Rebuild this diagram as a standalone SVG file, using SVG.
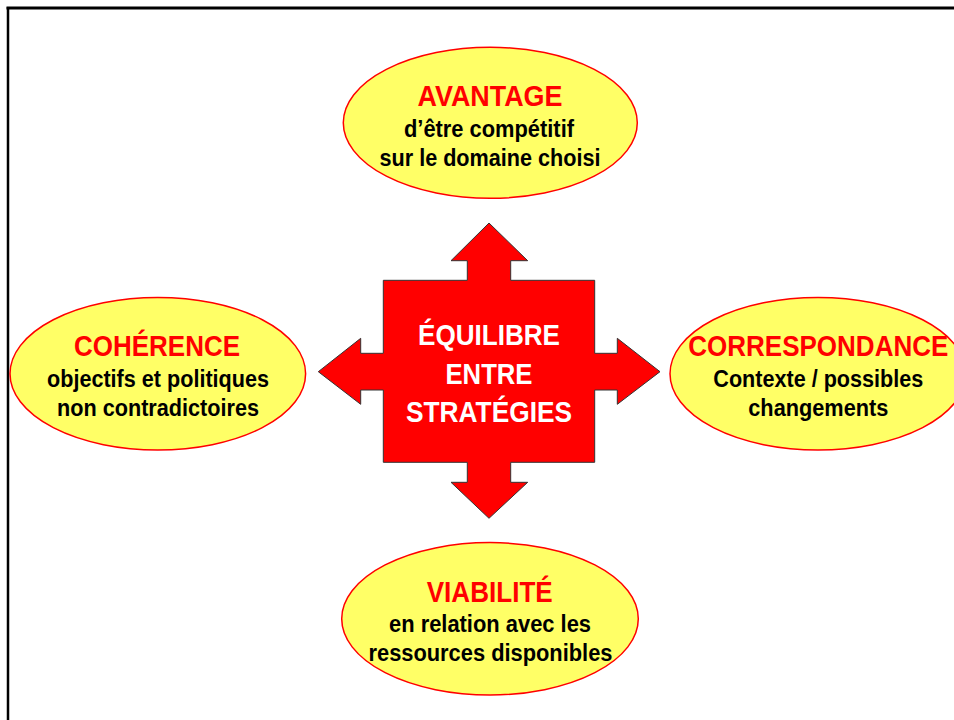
<svg xmlns="http://www.w3.org/2000/svg" width="954" height="720" viewBox="0 0 954 720">
<style>
.ell{fill:#FFFF66;stroke:#FF0000;stroke-width:1.5}
.t{font-family:"Liberation Sans",Arial,sans-serif;font-weight:bold;text-anchor:middle}
.ti{fill:#FF0000;font-size:29px}
.sub{fill:#000;font-size:23.5px}
.ctr{fill:#FFFFFF;font-size:30px}
</style>
<rect width="954" height="720" fill="#fff"/>
<g id="frame">
<line x1="6.5" y1="8" x2="954" y2="8" stroke="#000" stroke-width="3"/>
<line x1="8" y1="7" x2="8" y2="720" stroke="#000" stroke-width="2.5"/>
</g>
<g id="connectors">
<path d="M489,223 L527.7,260.7 L510.7,260.7 L510.7,280.3 L594.7,280.3 L594.7,353.3 L617.3,353.3 L617.3,338.3 L660,371.7 L617.3,404.3 L617.3,390 L594.7,390 L594.7,462.3 L510.7,462.3 L510.7,482.3 L527.7,482.3 L489,518.3 L451,482.3 L467.3,482.3 L467.3,462.3 L383.3,462.3 L383.3,390 L360.7,390 L360.7,404.3 L318.3,371.7 L360.7,338.3 L360.7,353.3 L383.3,353.3 L383.3,280.3 L467.3,280.3 L467.3,260.7 L451,260.7 Z" fill="#FF0000" stroke="#333" stroke-width="1"/>
</g>
<g id="center">
<text class="t ctr" x="489" y="345" textLength="142" lengthAdjust="spacingAndGlyphs">ÉQUILIBRE</text>
<text class="t ctr" x="489" y="383.5" textLength="87" lengthAdjust="spacingAndGlyphs">ENTRE</text>
<text class="t ctr" x="489" y="422" textLength="166" lengthAdjust="spacingAndGlyphs">STRATÉGIES</text>
</g>
<g id="avantage">
<ellipse class="ell" cx="490.3" cy="122.8" rx="147" ry="75.5"/>
<text class="t ti" x="490" y="106" textLength="145" lengthAdjust="spacingAndGlyphs">AVANTAGE</text>
<text class="t sub" x="489" y="137" textLength="170" lengthAdjust="spacingAndGlyphs">d’être compétitif</text>
<text class="t sub" x="490" y="165.5" textLength="221" lengthAdjust="spacingAndGlyphs">sur le domaine choisi</text>
</g>
<g id="coherence">
<ellipse class="ell" cx="157.8" cy="373.7" rx="147.8" ry="76.3"/>
<text class="t ti" x="157" y="356" textLength="166" lengthAdjust="spacingAndGlyphs">COHÉRENCE</text>
<text class="t sub" x="158" y="387" textLength="222" lengthAdjust="spacingAndGlyphs">objectifs et politiques</text>
<text class="t sub" x="158" y="416" textLength="202" lengthAdjust="spacingAndGlyphs">non contradictoires</text>
</g>
<g id="correspondance">
<ellipse class="ell" cx="818" cy="373.7" rx="148" ry="76.3"/>
<text class="t ti" x="818.3" y="356" textLength="260" lengthAdjust="spacingAndGlyphs">CORRESPONDANCE</text>
<text class="t sub" x="818.3" y="387" textLength="210" lengthAdjust="spacingAndGlyphs">Contexte / possibles</text>
<text class="t sub" x="818.3" y="416" textLength="140" lengthAdjust="spacingAndGlyphs">changements</text>
</g>
<g id="viabilite">
<ellipse class="ell" cx="490" cy="618.8" rx="148.3" ry="76.2"/>
<text class="t ti" x="489.7" y="602" textLength="126" lengthAdjust="spacingAndGlyphs">VIABILITÉ</text>
<text class="t sub" x="490" y="632" textLength="202" lengthAdjust="spacingAndGlyphs">en relation avec les</text>
<text class="t sub" x="490.5" y="660.5" textLength="244" lengthAdjust="spacingAndGlyphs">ressources disponibles</text>
</g>
</svg>
